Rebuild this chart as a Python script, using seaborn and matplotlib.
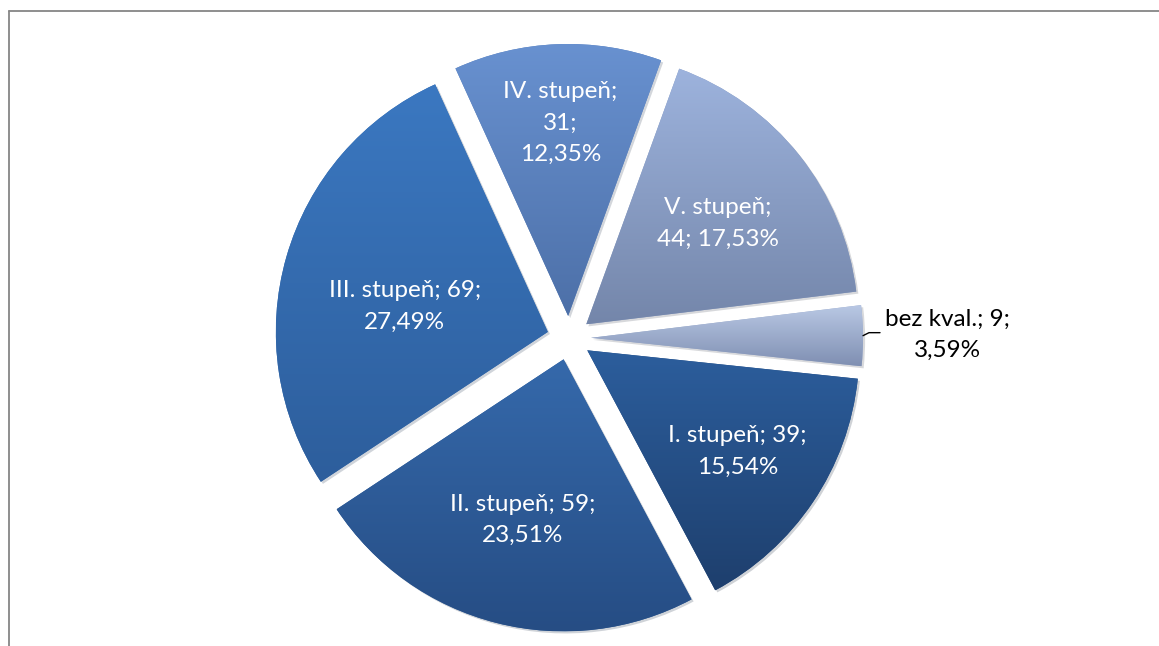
import numpy as np
import matplotlib
matplotlib.use('Agg')
import matplotlib.pyplot as plt
import seaborn as sns
from matplotlib.lines import Line2D

# data
categories = ['I. stupeň', 'II. stupeň', 'III. stupeň', 'IV. stupeň', 'V. stupeň', 'bez kval.']
counts = [39, 59, 69, 31, 44, 9]

# per-slice vertical gradient (top, bottom)
top_colors = ['#2C5E9D', '#3569AB', '#3B78C1', '#6891D0', '#9DB3DD', '#BAC9E5']
bottom_colors = ['#1E3F6D', '#264D84', '#2D5E9C', '#4D70A8', '#7486AA', '#7F8FB2']
# how each label is broken into lines, how far from the tip it sits, small angle tweak
label_breaks = [(' ', '\n'), (' ', '\n'), (' ', '\n'), ('\n', '\n'), ('\n', ' '), (' ', '\n')]
label_dist = [0.665, 0.61, 0.535, 0.71, 0.61, 1.31]
label_shift = [0, 0, 5.9, 0, -1.0, 0]

sns.set_theme(style='white')
plt.rcParams['font.family'] = ['Lato', 'DejaVu Sans']

W, H = 1159, 646
fig = plt.figure(figsize=(W / 100, H / 100), dpi=100)
ax = fig.add_axes([0, 0, 1, 1])

R = 272
cx, cy = 569, 308
mid = [sns.blend_palette([t, b], 3)[1] for t, b in zip(top_colors, bottom_colors)]
# explode is in data units here (radius is not 1)
wedges, _ = ax.pie(counts, radius=R, center=(cx, cy), startangle=-6,
                   counterclock=False, explode=[0.081 * R] * len(counts), colors=mid,
                   wedgeprops=dict(linewidth=0),
                   shadow={'ox': 1.5, 'oy': -1.5, 'shade': 0.6, 'alpha': 0.2})

total = sum(counts)
grad = np.linspace(0, 1, 256).reshape(-1, 1)
for i, w in enumerate(wedges):
    ext = w.get_path().get_extents()
    cmap = sns.blend_palette([bottom_colors[i], top_colors[i]], as_cmap=True)
    im = ax.imshow(grad, cmap=cmap, origin='lower', aspect='auto',
                   extent=[ext.x0, ext.x1, ext.y0, ext.y1],
                   zorder=w.get_zorder() + 0.1, interpolation='bilinear')
    im.set_clip_path(w)

    pct = f"{counts[i] / total * 100:.2f}".replace('.', ',') + '%'
    b1, b2 = label_breaks[i]
    txt = f"{categories[i]};{b1}{counts[i]};{b2}{pct}"
    th_mid = np.deg2rad((w.theta1 + w.theta2) / 2)
    th = th_mid + np.deg2rad(label_shift[i])
    wx, wy = w.center
    d = label_dist[i] * R
    tx, ty = wx + d * np.cos(th), wy + d * np.sin(th)
    inside = label_dist[i] < 1
    ax.text(tx, ty, txt, ha='center', va='center', fontsize=17.5, linespacing=1.6,
            color='white' if inside else 'black', zorder=5)
    if not inside:
        x0, y0 = wx + R * np.cos(th_mid), wy + R * np.sin(th_mid)
        ax.plot([x0, x0 + 6, x0 + 17], [y0, y0 + 3, y0 + 3], color='black', lw=1, zorder=5)

ax.set_xlim(0, W)
ax.set_ylim(0, H)
ax.set_aspect('equal')
ax.axis('off')

# chart area border (only left and top visible)
fx, fy = 8.5 / W, 1 - 10.5 / H
fig.add_artist(Line2D([fx, fx], [0, fy], transform=fig.transFigure, color='#868686', lw=1.3))
fig.add_artist(Line2D([fx, 1], [fy, fy], transform=fig.transFigure, color='#868686', lw=1.3))

fig.savefig('out.png', dpi=100, facecolor='white')
